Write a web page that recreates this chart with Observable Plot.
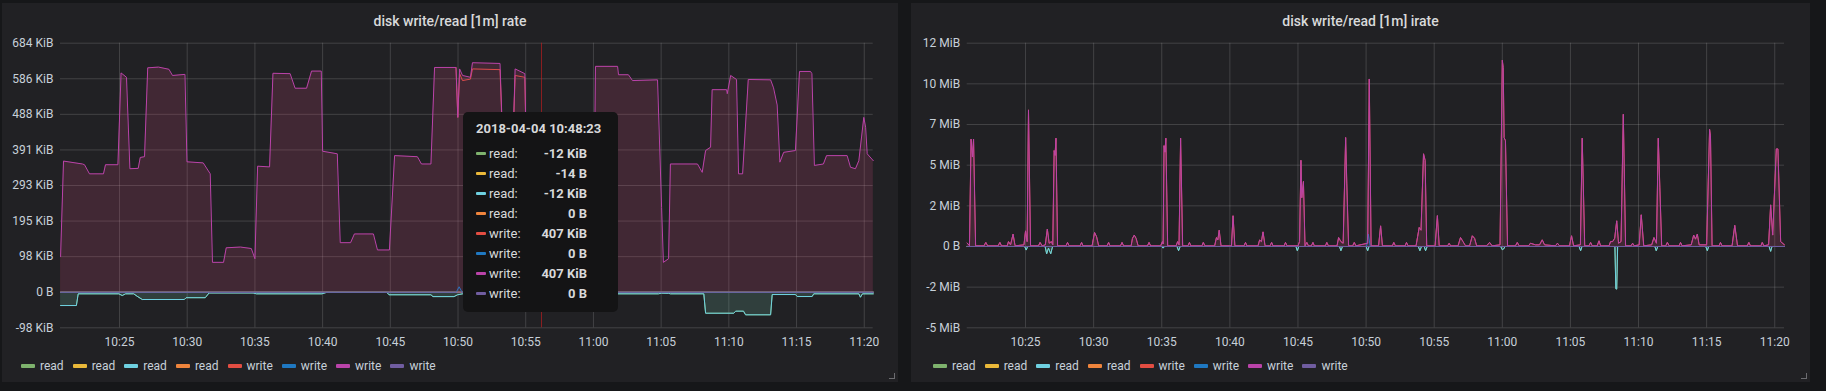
<!DOCTYPE html>
<html><head><meta charset="utf-8">
<script src="https://cdn.jsdelivr.net/npm/d3@7"></script>
<script src="https://cdn.jsdelivr.net/npm/@observablehq/plot@0.6"></script>
<style>
html,body{margin:0;padding:0;background:#161719;width:1826px;height:391px;overflow:hidden;font-family:Roboto,"Noto Sans",sans-serif;}
.panel{position:absolute;background:#212124;}
.title{position:absolute;left:0;right:0;top:8px;text-align:center;color:#d8d9da;font-size:14px;font-weight:500;line-height:20px;}
.chart{position:absolute;top:30px;}
.legend{position:absolute;top:358px;display:flex;font-size:12px;color:#c7d0d9;line-height:16px;}
.legend .item{display:flex;align-items:center;margin-right:9px;}
.legend .sw{width:14px;height:4px;border-radius:1px;margin-right:5px;}
.handle{position:absolute;width:5px;height:5px;border-right:1.5px solid #6c6c70;border-bottom:1.5px solid #6c6c70;}
.tooltip{position:absolute;left:463px;top:112px;width:155px;height:200px;background:#141415;border-radius:5px;color:#d8d9da;font-size:13px;}
.tooltip .tt{position:absolute;left:13px;top:9px;font-weight:700;}
.tooltip .row{position:absolute;left:13px;width:111px;height:18px;display:flex;align-items:center;}
.tooltip .row .sw{width:10px;height:3px;margin-right:3px;border-radius:1px;}
.tooltip .row .val{margin-left:auto;font-weight:700;}
</style></head>
<body>
<div class="panel" style="left:2px;top:3px;width:896px;height:379px;"><div class="title">disk write/read [1m] rate</div></div>
<div class="panel" style="left:911px;top:3px;width:899px;height:379px;"><div class="title">disk write/read [1m] irate</div></div>
<div id="c1" class="chart" style="left:2px;"></div>
<div id="c2" class="chart" style="left:911px;"></div>
<div id="l1" class="legend" style="left:21px;"></div>
<div id="l2" class="legend" style="left:933px;"></div>
<div class="handle" style="left:889px;top:373px;"></div>
<div class="handle" style="left:1801px;top:373px;"></div>
<div id="tip" class="tooltip"></div>
<script>
// ---------- shared ----------
const seriesColors = ["#7EB26D","#EAB839","#6ED0E0","#EF843C","#E24D42","#1F78C1","#BA43A9","#705DA0"];
const legendLabels = ["read","read","read","read","write","write","write","write"];
const xTickTimes = ["10:25","10:30","10:35","10:40","10:45","10:50","10:55","11:00","11:05","11:10","11:15","11:20"];

// ---------- left panel: rate (values in KiB) ----------
const rateDomain = ["10:20:38.6","11:20:39.6"];
const rateYTicks = [-100000,0,100000,200000,300000,400000,500000,600000,700000];
const rateYLabels = ["-98 KiB","0 B","98 KiB","195 KiB","293 KiB","391 KiB","488 KiB","586 KiB","684 KiB"];
const rateWritePink = [["10:20:39",98],["10:20:52",360],["10:22:16",352],["10:22:25",350],["10:22:47",325],["10:23:49",325],["10:23:58",350],["10:24:53",350],["10:25:07",602],["10:25:31",590],["10:25:46",339],["10:26:23",340],["10:26:32",370],["10:26:51",372],["10:27:05",616],["10:27:53",618],["10:28:39",612],["10:28:55",595],["10:29:50",598],["10:29:59",358],["10:31:11",355],["10:31:42",325],["10:31:52",82],["10:32:41",82],["10:32:53",122],["10:33:56",124],["10:34:44",120],["10:35:00",92],["10:35:12",346],["10:36:05",344],["10:36:20",601],["10:37:36",600],["10:37:58",560],["10:38:49",560],["10:39:11",607],["10:39:54",607],["10:40:00",387],["10:41:05",380],["10:41:18",136],["10:42:04",136],["10:42:21",160],["10:43:45",160],["10:44:03",116],["10:44:56",116],["10:45:19",375],["10:47:00",372],["10:47:18",352],["10:48:00",352],["10:48:16",617],["10:49:51",617],["10:49:59",480],["10:50:07",613],["10:50:20",595],["10:50:55",590],["10:51:04",630],["10:53:06",628],["10:53:21",360],["10:54:01",360],["10:54:13",613],["10:54:56",600],["10:55:03",360],["11:00:05",360],["11:00:09",620],["11:01:47",620],["11:01:51",597],["11:02:35",597],["11:02:53",581],["11:04:44",583],["11:05:02",233],["11:05:10",82],["11:05:33",92],["11:05:41",352],["11:07:41",352],["11:08:02",329],["11:08:17",389],["11:08:39",398],["11:08:46",556],["11:09:50",556],["11:09:53",545],["11:10:08",595],["11:10:34",584],["11:10:43",325],["11:11:01",325],["11:11:26",584],["11:13:05",583],["11:13:18",561],["11:13:34",514],["11:13:46",357],["11:14:03",384],["11:14:55",389],["11:15:13",606],["11:16:02",606],["11:16:08",600],["11:16:19",348],["11:16:59",352],["11:17:13",375],["11:18:44",375],["11:18:59",343],["11:19:21",339],["11:19:36",361],["11:19:58",480],["11:20:06",453],["11:20:13",380],["11:20:40",361]];
// red write follows pink everywhere except this stretch, where it runs just below it
const rateWriteRedDiff = [["10:49:51",617],["10:49:59",480],["10:50:07",600],["10:50:20",581],["10:50:55",585],["10:51:04",613],["10:53:06",611],["10:53:21",360],["10:54:01",360],["10:54:13",595],["10:54:56",590],["10:55:03",360]];
const rateReadCyan = [["10:20:39",-36.5],["10:21:49",-36.5],["10:21:57",-4.4],["10:24:57",-4.4],["10:25:12",-9],["10:25:27",-4.4],["10:26:03",-4.4],["10:26:18",-11],["10:26:41",-20],["10:29:47",-20],["10:29:55",-15],["10:31:20",-15],["10:31:37",-2],["10:34:52",-2],["10:35:07",-4.4],["10:39:57",-4.4],["10:40:17",-0.5],["10:44:45",-0.5],["10:44:54",-7],["10:48:00",-7],["10:48:09",-12],["10:49:42",-12],["10:49:58",-7],["10:50:20",-4.4],["11:04:48",-4.4],["11:05:02",-2.5],["11:05:33",-3],["11:05:41",-4.4],["11:08:09",-4.4],["11:08:17",-57.6],["11:10:22",-57.6],["11:10:30",-52],["11:11:05",-52],["11:11:14",-62],["11:13:05",-62],["11:13:12",-6.3],["11:14:55",-6.3],["11:15:03",-11.8],["11:16:09",-11.8],["11:16:16",-4.4],["11:19:36",-4.4],["11:19:43",-13.7],["11:19:52",-4.4],["11:20:40",-4.4]];
const rateWriteBlue = [["10:20:39",0],["10:49:52",0],["10:50:05",15],["10:50:18",0],["11:20:40",0]];
const rateZero = [["10:20:39",0],["11:20:40",0]];
const rateCrosshair = ["10:56:10"];

// ---------- right panel: irate (values in MB = 1e6 bytes) ----------
const irateDomain = ["10:20:43","11:20:43"];
const irateYTicks = [-5e6,-2.5e6,0,2.5e6,5e6,7.5e6,10e6,12.5e6];
const irateYLabels = ["-5 MiB","-2 MiB","0 B","2 MiB","5 MiB","7 MiB","10 MiB","12 MiB"];
const irateWritePink = [["10:20:43",0.21],["10:20:53",0.05],["10:21:00",6.6],["10:21:06",5.5],["10:21:11",6.6],["10:21:20",0.04],["10:21:57",0.04],["10:22:05",0.25],["10:22:13",0.04],["10:22:59",0.04],["10:23:07",0.25],["10:23:14",0.04],["10:23:39",0.04],["10:23:45",0.3],["10:23:54",0.1],["10:24:05",0.76],["10:24:14",0.04],["10:24:53",0.1],["10:25:00",0.96],["10:25:07",0.3],["10:25:13",8.4],["10:25:22",0.04],["10:25:57",0.04],["10:26:04",0.25],["10:26:13",0.04],["10:26:27",0.1],["10:26:36",1.07],["10:26:44",0.2],["10:26:54",0.3],["10:27:00",0.1],["10:27:06",5.9],["10:27:10",5.6],["10:27:14",6.66],["10:27:21",0.04],["10:27:58",0.04],["10:28:05",0.25],["10:28:12",0.04],["10:29:00",0.04],["10:29:07",0.25],["10:29:13",0.04],["10:29:53",0.04],["10:30:04",0.86],["10:30:13",0.6],["10:30:22",0.04],["10:30:59",0.04],["10:31:06",0.25],["10:31:12",0.04],["10:31:58",0.04],["10:32:05",0.25],["10:32:12",0.04],["10:32:45",0.04],["10:32:51",0.5],["10:32:59",0.7],["10:33:07",0.5],["10:33:16",0.04],["10:33:57",0.04],["10:34:04",0.25],["10:34:11",0.04],["10:34:55",0.04],["10:35:03",0.3],["10:35:06",0.15],["10:35:10",6.2],["10:35:14",5.8],["10:35:18",6.66],["10:35:26",0.04],["10:36:03",0.04],["10:36:10",0.3],["10:36:16",0.1],["10:36:23",6.66],["10:36:32",0.04],["10:36:55",0.04],["10:37:02",0.25],["10:37:08",0.04],["10:37:57",0.04],["10:38:03",0.25],["10:38:10",0.04],["10:38:53",0.04],["10:39:01",0.55],["10:39:07",0.4],["10:39:13",1.0],["10:39:21",0.04],["10:40:07",0.04],["10:40:14",1.89],["10:40:22",0.04],["10:41:02",0.04],["10:41:09",0.25],["10:41:15",0.04],["10:42:04",0.04],["10:42:11",0.4],["10:42:19",0.3],["10:42:26",0.9],["10:42:35",0.04],["10:42:57",0.04],["10:43:04",0.25],["10:43:10",0.04],["10:43:59",0.04],["10:44:05",0.25],["10:44:12",0.04],["10:45:00",0.04],["10:45:07",0.3],["10:45:13",5.3],["10:45:17",3.0],["10:45:24",4.0],["10:45:31",0.04],["10:45:39",0.25],["10:45:46",0.04],["10:45:59",0.04],["10:46:06",0.25],["10:46:12",0.04],["10:47:01",0.04],["10:47:07",0.25],["10:47:14",0.04],["10:47:52",0.04],["10:47:59",0.55],["10:48:09",0.3],["10:48:19",0.2],["10:48:30",6.7],["10:48:35",3.9],["10:48:43",0.04],["10:49:01",0.04],["10:49:08",0.25],["10:49:15",0.04],["10:50:07",0.2],["10:50:14",10.3],["10:50:22",0.04],["10:50:55",0.04],["10:51:04",1.27],["10:51:12",0.04],["10:51:56",0.04],["10:52:02",0.25],["10:52:09",0.04],["10:52:52",0.04],["10:52:58",0.25],["10:53:05",0.04],["10:53:40",0.04],["10:53:47",0.6],["10:53:54",1.17],["10:54:02",1.0],["10:54:13",5.7],["10:54:20",5.3],["10:54:27",0.04],["10:55:04",0.04],["10:55:14",1.9],["10:55:22",0.04],["10:55:59",0.04],["10:56:06",0.2],["10:56:12",0.04],["10:56:45",0.04],["10:56:56",0.55],["10:57:07",0.3],["10:57:18",0.04],["10:57:36",0.04],["10:57:48",0.66],["10:57:58",0.5],["10:58:07",0.04],["10:58:51",0.04],["10:59:04",0.25],["10:59:15",0.04],["10:59:50",0.1],["11:00:00",11.45],["11:00:04",11.0],["11:00:08",6.7],["11:00:14",6.5],["11:00:23",0.04],["11:00:58",0.04],["11:01:06",0.25],["11:01:14",0.04],["11:01:56",0.04],["11:02:04",0.2],["11:02:26",0.1],["11:02:44",0.1],["11:02:56",0.41],["11:03:06",0.1],["11:03:54",0.04],["11:04:03",0.2],["11:04:12",0.04],["11:04:56",0.04],["11:05:05",0.66],["11:05:14",0.04],["11:05:44",0.1],["11:05:52",6.66],["11:06:03",0.04],["11:06:22",0.04],["11:06:29",0.25],["11:06:36",0.04],["11:06:58",0.04],["11:07:06",0.35],["11:07:13",0.04],["11:07:50",0.04],["11:07:57",0.3],["11:08:06",0.3],["11:08:15",0.5],["11:08:24",1.58],["11:08:32",0.2],["11:08:43",0.3],["11:08:53",8.13],["11:09:03",0.04],["11:09:27",0.04],["11:09:34",0.2],["11:09:41",0.04],["11:10:03",0.1],["11:10:12",1.95],["11:10:23",0.04],["11:10:58",0.1],["11:11:08",0.55],["11:11:19",0.2],["11:11:27",6.66],["11:11:34",3.6],["11:11:42",0.04],["11:12:00",0.04],["11:12:07",0.25],["11:12:15",0.04],["11:12:59",0.04],["11:13:05",0.25],["11:13:12",0.04],["11:13:52",0.1],["11:14:03",0.7],["11:14:11",0.45],["11:14:19",0.76],["11:14:27",0.1],["11:15:00",0.1],["11:15:13",7.2],["11:15:17",6.8],["11:15:24",0.04],["11:15:55",0.04],["11:16:01",0.25],["11:16:08",0.04],["11:16:52",0.04],["11:17:04",1.3],["11:17:16",0.04],["11:17:59",0.04],["11:18:06",0.25],["11:18:13",0.04],["11:18:59",0.04],["11:19:05",0.25],["11:19:12",0.04],["11:19:33",0.1],["11:19:42",2.56],["11:19:51",0.7],["11:20:07",6.0],["11:20:14",6.0],["11:20:26",0.3],["11:20:43",0.1]];
const irateReadCyan = [["10:20:43",0],["10:24:56",0],["10:25:03",-0.22],["10:25:09",0],["10:26:26",0],["10:26:33",-0.45],["10:26:41",-0.1],["10:26:51",-0.45],["10:26:59",0],["10:34:59",0],["10:35:06",-0.1],["10:35:12",0],["10:36:07",0],["10:36:14",-0.26],["10:36:21",0],["10:44:51",0],["10:44:57",-0.26],["10:45:04",0],["10:48:03",0],["10:48:09",-0.26],["10:48:16",0],["10:50:00",0],["10:50:07",-0.26],["10:50:13",0],["10:53:50",0],["10:53:57",-0.26],["10:54:04",0],["10:54:16",0],["10:54:22",-0.26],["10:54:29",0],["10:59:53",0],["11:00:00",-0.2],["11:00:06",-0.15],["11:00:12",0],["11:05:38",0],["11:05:45",-0.26],["11:05:51",0],["11:08:16",0],["11:08:20",-2.6],["11:08:24",-2.62],["11:08:28",0],["11:11:12",0],["11:11:18",-0.26],["11:11:25",0],["11:14:56",0],["11:15:03",-0.26],["11:15:09",0],["11:19:35",0],["11:19:42",-0.3],["11:19:48",0],["11:20:43",0]];
const irateWriteBlue = [["10:20:43",0],["10:50:02",0],["10:50:10",0.76],["10:50:18",0],["11:20:43",0]];
const irateZero = [["10:20:43",0],["11:20:43",0]];

// ---------- tooltip ----------
const tooltipTime = "2018-04-04 10:48:23";
const tooltipLabels = ["read:","read:","read:","read:","write:","write:","write:","write:"];
const tooltipValues = ["-12 KiB","-14 B","-12 KiB","0 B","407 KiB","0 B","407 KiB","0 B"];

// ---------- helpers ----------
const T = s => { const [h,m,sec="0"] = s.split(":"); return new Date(Date.UTC(2018,3,4,+h,+m) + parseFloat(sec)*1000); };
const xTicks = xTickTimes.map(T);
const toPts = (arr, unit) => arr.map(([t,v]) => ({t: T(t), v: v*unit}));

function series(arr, unit, color, withFill=true) {
  const pts = toPts(arr, unit);
  const m = [];
  if (withFill) m.push(Plot.areaY(pts, {x:"t", y1: () => 0, y2:"v", fill: color, fillOpacity: 0.1}));
  m.push(Plot.line(pts, {x:"t", y:"v", stroke: color, strokeWidth: 1}));
  return m;
}
function fillOnly(arr, unit, color) {
  return Plot.areaY(toPts(arr, unit), {x:"t", y1: () => 0, y2:"v", fill: color, fillOpacity: 0.1});
}

function chart({width, marginLeft, marginRight, domain, yDomain, yTicks, yLabels, layers}) {
  const lab = new Map(yTicks.map((v,i) => [v, yLabels[i]]));
  return Plot.plot({
    width, height: 330, marginTop: 12.7, marginBottom: 32.7, marginLeft, marginRight,
    style: {background: "transparent", color: "#c7d0d9", fontFamily: "Roboto, sans-serif", fontSize: "12px", overflow: "visible"},
    x: {type: "utc", domain: domain.map(T)},
    y: {domain: yDomain},
    marks: [
      Plot.gridX({ticks: xTicks, stroke: "#c8c8c8", strokeOpacity: 0.2}),
      Plot.gridY({ticks: yTicks, stroke: "#c8c8c8", strokeOpacity: 0.2}),
      ...layers,
      Plot.axisX({ticks: xTicks, tickFormat: d3.utcFormat("%H:%M"), tickSize: 0, tickPadding: 10, label: null}),
      Plot.axisY({ticks: yTicks, tickFormat: d => lab.get(d), tickSize: 0, tickPadding: 7, label: null})
    ]
  });
}

const KiB = 1024, MB = 1e6;
const c = seriesColors;
const left = chart({
  width: 896, marginLeft: 58, marginRight: 25.3,
  domain: rateDomain, yDomain: [-100000, 700000], yTicks: rateYTicks, yLabels: rateYLabels,
  layers: [
    ...series(rateReadCyan, KiB, c[0]),          // read (green) equals cyan read
    ...series(rateZero, KiB, c[1]),
    ...series(rateReadCyan, KiB, c[2]),
    ...series(rateZero, KiB, c[3]),
    fillOnly(rateWritePink, KiB, c[4]),           // red write equals pink write
    ...series(rateWriteRedDiff, KiB, c[4], false),
    ...series(rateWriteBlue, KiB, c[5]),
    ...series(rateWritePink, KiB, c[6]),
    ...series(rateZero, KiB, c[7]),
    Plot.ruleX(rateCrosshair.map(T), {stroke: "#c41f1f", strokeOpacity: 0.65, strokeWidth: 1})
  ]
});
const right = chart({
  width: 899, marginLeft: 55.7, marginRight: 26,
  domain: irateDomain, yDomain: [-5e6, 12.5e6], yTicks: irateYTicks, yLabels: irateYLabels,
  layers: [
    ...series(irateReadCyan, MB, c[0]),
    ...series(irateZero, MB, c[1]),
    ...series(irateReadCyan, MB, c[2]),
    ...series(irateZero, MB, c[3]),
    ...series(irateWritePink, MB, c[4]),
    ...series(irateWriteBlue, MB, c[5]),
    ...series(irateWritePink, MB, c[6]),
    ...series(irateZero, MB, c[7])
  ]
});
document.getElementById("c1").append(left);
document.getElementById("c2").append(right);

function legend(id) {
  const el = document.getElementById(id);
  legendLabels.forEach((l,i) => {
    const it = document.createElement("div"); it.className = "item";
    it.innerHTML = `<div class="sw" style="background:${seriesColors[i]}"></div><span>${l}</span>`;
    el.append(it);
  });
}
legend("l1"); legend("l2");

const tip = document.getElementById("tip");
tip.innerHTML = `<div class="tt">${tooltipTime}</div>` + tooltipLabels.map((l,i) =>
  `<div class="row" style="top:${32 + i*20}px"><div class="sw" style="background:${seriesColors[i]}"></div><span>${l}</span><span class="val">${tooltipValues[i]}</span></div>`).join("");
</script>
</body></html>
